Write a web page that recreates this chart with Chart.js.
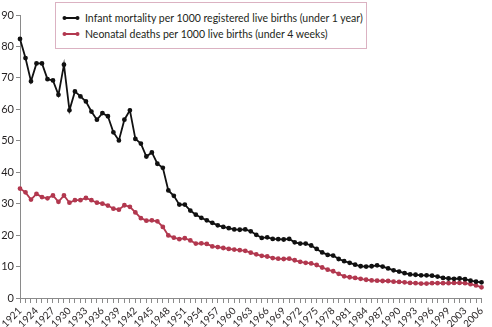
<!DOCTYPE html>
<html>
<head>
<meta charset="utf-8">
<script src="https://cdn.jsdelivr.net/npm/chart.js@4"></script>
<style>
  html, body { margin: 0; padding: 0; background: #fff; }
  #wrap { position: relative; width: 492px; height: 327px; }
  #legend {
    position: absolute; left: 55px; top: 2px; width: 312px; height: 47px;
    border: 1px solid #dbb2c2; background: #fff; box-sizing: border-box;
    font-family: "Lato", sans-serif; font-size: 10.5px; color: #231f20;
    padding-top: 7px;
  }
  .item { display: flex; align-items: center; height: 16px; padding-left: 6px; }
  .item svg { margin-right: 5px; }
</style>
</head>
<body>
<div id="wrap">
  <canvas id="deathsChart" width="492" height="327"></canvas>
  <div id="legend"></div>
</div>
<script>
// years 1921-2006 (2000 not in the series)
const years = [];
for (let y = 1921; y <= 2006; y++) { if (y !== 2000) years.push(String(y)); }

const infantLabel = 'Infant mortality per 1000 registered live births (under 1 year)';
const infantValues = [
  82.4, 76.3, 68.9, 74.6, 74.6, 69.6, 69.2, 64.6, 74.2, 59.7,
  65.7, 64.1, 62.5, 59.3, 56.7, 58.8, 57.8, 52.7, 50.1, 56.7,
  59.7, 50.6, 49.1, 45.0, 46.3, 42.7, 41.4, 34.2, 32.5, 29.7,
  29.7, 27.8, 26.5, 25.5, 24.7, 23.9, 23.1, 22.6, 22.2, 21.8,
  21.7, 21.8, 21.2, 20.1, 19.1, 19.3, 18.8, 18.7, 18.6, 18.8,
  17.7, 17.3, 17.3, 16.7, 15.6, 14.5, 13.7, 13.5, 12.4, 11.7,
  11.2, 10.6, 10.1, 10.0, 10.1, 10.4, 10.0, 9.4, 8.8, 8.4,
  7.9, 7.5, 7.4, 7.2, 7.2, 7.1, 6.8, 6.4, 6.2, 6.1,
  6.2, 6.0, 5.5, 5.2, 5.0
];

const neonatalLabel = 'Neonatal deaths per 1000 live births (under 4 weeks)';
const neonatalValues = [
  34.8, 33.6, 31.3, 33.1, 32.1, 31.7, 32.6, 30.6, 32.6, 30.3,
  31.1, 31.1, 31.8, 31.1, 30.3, 30.0, 29.4, 28.4, 28.1, 29.5,
  29.0, 27.2, 25.4, 24.6, 24.7, 24.4, 22.6, 19.9, 19.2, 18.7,
  19.0, 18.3, 17.3, 17.4, 17.2, 16.4, 16.2, 15.9, 15.6, 15.4,
  15.2, 15.0, 14.4, 13.9, 13.4, 13.2, 12.7, 12.5, 12.4, 12.5,
  12.0, 11.5, 11.2, 11.0, 10.5, 9.7, 9.0, 8.5, 7.7, 6.9,
  6.6, 6.4, 6.1, 5.8, 5.6, 5.5, 5.4, 5.4, 5.2, 5.1,
  5.0, 4.8, 4.7, 4.6, 4.6, 4.7, 4.7, 4.7, 4.7, 4.8,
  4.8, 4.7, 4.4, 4.0, 3.4
];

const yTicks = [0, 10, 20, 30, 40, 50, 60, 70, 80, 90];

const axisColor = '#8a8a8a';
const textColor = '#231f20';

const ctx = document.getElementById('deathsChart').getContext('2d');
const myChart = new Chart(ctx, {
  type: 'line',
  data: {
    labels: years,
    datasets: [{
      label: infantLabel,
      data: infantValues,
      borderColor: '#111111',
      backgroundColor: '#111111',
      borderWidth: 1.8,
      pointRadius: 1.5,
      pointHoverRadius: 1.5,
      tension: 0,
      fill: false
    }, {
      label: neonatalLabel,
      data: neonatalValues,
      borderColor: '#b2384f',
      backgroundColor: '#b2384f',
      borderWidth: 1.8,
      pointRadius: 1.5,
      pointHoverRadius: 1.5,
      tension: 0,
      fill: false
    }]
  },
  options: {
    responsive: false,
    animation: false,
    layout: { padding: { top: 15, right: 5, left: 0, bottom: 0 } },
    plugins: { legend: { display: false }, tooltip: { enabled: false } },
    scales: {
      x: {
        type: 'category',
        offset: false,
        afterFit: (axis) => { axis.height = 29; },
        border: { display: true, color: axisColor, width: 1 },
        grid: { drawOnChartArea: false, drawTicks: true, tickLength: 5, color: axisColor },
        ticks: {
          autoSkip: false,
          minRotation: 45,
          maxRotation: 45,
          padding: 2,
          color: textColor,
          font: { family: 'Lato', size: 10 },
          callback: function (val, i) { return i % 3 === 0 ? this.getLabelForValue(val) : ''; }
        }
      },
      y: {
        min: 0,
        max: 90,
        afterFit: (axis) => { axis.width = 20; },
        afterBuildTicks: (axis) => { axis.ticks = yTicks.map(v => ({ value: v })); },
        border: { display: true, color: axisColor, width: 1 },
        grid: { drawOnChartArea: false, drawTicks: true, tickLength: 4, color: axisColor },
        ticks: {
          padding: 2,
          color: textColor,
          font: { family: 'Lato', size: 11 }
        }
      }
    }
  }
});

// HTML legend built from the chart's datasets
const legendEl = document.getElementById('legend');
myChart.data.datasets.forEach(ds => {
  const row = document.createElement('div');
  row.className = 'item';
  const c = ds.borderColor;
  row.innerHTML = '<svg width="18" height="6"><line x1="2" y1="3" x2="16" y2="3" stroke="' + c +
    '" stroke-width="2"/><circle cx="2.5" cy="3" r="2" fill="' + c + '"/><circle cx="15.5" cy="3" r="2" fill="' + c +
    '"/></svg><span>' + ds.label + '</span>';
  legendEl.appendChild(row);
});
</script>
</body>
</html>
